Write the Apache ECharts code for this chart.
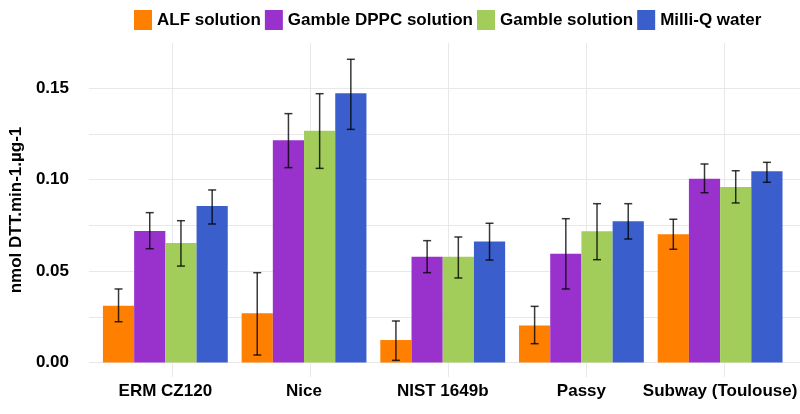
<!DOCTYPE html>
<html>
<head>
<meta charset="utf-8">
<script src="https://cdn.jsdelivr.net/npm/echarts@6/dist/echarts.min.js"></script>
<style>html,body{margin:0;padding:0;background:#fff}#c{width:800px;height:414px}</style>
</head>
<body>
<div id="c"></div>
<script>
const categories = ['ERM CZ120', 'Nice', 'NIST 1649b', 'Passy', 'Subway (Toulouse)'];
const seriesNames = ['ALF solution', 'Gamble DPPC solution', 'Gamble solution', 'Milli-Q water'];
const colors = ['#FF7F00', '#9932CC', '#A2CD5A', '#3A5FCD'];

const alfMean   = [0.0310, 0.0269, 0.0123, 0.0203, 0.0701];
const dppcMean  = [0.0719, 0.1214, 0.0578, 0.0595, 0.1004];
const gambMean  = [0.0653, 0.1267, 0.0578, 0.0717, 0.0959];
const mqMean    = [0.0855, 0.1471, 0.0662, 0.0772, 0.1045];

const alfLow  = [0.0223, 0.0041, 0.0012, 0.0103, 0.0619];
const alfHigh = [0.0402, 0.0491, 0.0227, 0.0307, 0.0783];
const dppcLow  = [0.0622, 0.1065, 0.0491, 0.0402, 0.0928];
const dppcHigh = [0.0819, 0.1360, 0.0666, 0.0786, 0.1085];
const gambLow  = [0.0527, 0.1061, 0.0462, 0.0562, 0.0872];
const gambHigh = [0.0775, 0.1469, 0.0686, 0.0868, 0.1048];
const mqLow  = [0.0757, 0.1274, 0.0560, 0.0675, 0.0985];
const mqHigh = [0.0943, 0.1657, 0.0761, 0.0868, 0.1094];

const yTicks = ['0.00', '0.05', '0.10', '0.15'];
const yMin = -0.0079, yMax = 0.1746;

const means = [alfMean, dppcMean, gambMean, mqMean];
const lows = [alfLow, dppcLow, gambLow, mqLow];
const highs = [alfHigh, dppcHigh, gambHigh, mqHigh];

const font = "'Liberation Sans', Arial, sans-serif";
const txt = { fontFamily: font, fontWeight: 'bold', fontSize: 17, color: '#000' };

const errData = [];
for (let s = 0; s < 4; s++) {
  for (let i = 0; i < categories.length; i++) {
    errData.push([i, lows[s][i], highs[s][i], s]);
  }
}

const chart = echarts.init(document.getElementById('c'), null, { renderer: 'canvas' });
const series = seriesNames.map((n, s) => ({
  name: n, type: 'bar', xAxisIndex: 1, yAxisIndex: 1,
  data: means[s], barGap: '0%', barCategoryGap: '10%',
  itemStyle: { color: colors[s] }, z: 2
}));
series.push({
  name: 'err', type: 'custom', xAxisIndex: 1, yAxisIndex: 1, z: 5,
  data: errData,
  renderItem: function (params, api) {
    const i = api.value(0), s = api.value(3);
    const lo = api.coord([i, api.value(1)]);
    const hi = api.coord([i, api.value(2)]);
    const band = api.size([1, 0])[0];
    const x = lo[0] + (s - 1.5) * band * 0.9 / 4;
    const cw = 4;
    const st = { stroke: 'rgba(0,0,0,0.78)', lineWidth: 1.5 };
    return { type: 'group', children: [
      { type: 'line', shape: { x1: x, y1: lo[1], x2: x, y2: hi[1] }, style: st },
      { type: 'line', shape: { x1: x - cw, y1: lo[1], x2: x + cw, y2: lo[1] }, style: st },
      { type: 'line', shape: { x1: x - cw, y1: hi[1], x2: x + cw, y2: hi[1] }, style: st }
    ]};
  }
});

chart.setOption({
  animation: false,
  legend: {
    data: seriesNames, left: 134, top: 10, padding: 0, itemWidth: 18, itemHeight: 20, itemGap: 4,
    icon: 'rect', textStyle: Object.assign({}, txt, { padding: [0, 0, 0, 0] })
  },
  grid: [
    { left: 82, right: 0, top: 43, bottom: 37 },
    { left: 96, right: 6.5, top: 43, bottom: 37 }
  ],
  xAxis: [
    { type: 'value', gridIndex: 0, min: -0.6, max: 4.547, minInterval: 1, maxInterval: 1,
      axisLine: { show: false }, axisTick: { show: false }, axisLabel: { show: false },
      splitLine: { show: true, showMinLine: false, showMaxLine: false, lineStyle: { color: '#e8e8e8', width: 1 } } },
    { type: 'category', gridIndex: 1, data: categories,
      axisLine: { show: false }, axisTick: { show: false }, splitLine: { show: false },
      axisLabel: Object.assign({}, txt, { margin: 6, interval: 0 }) }
  ],
  yAxis: [
    { type: 'value', gridIndex: 0, min: yMin, max: yMax, minInterval: 0.025, maxInterval: 0.025,
      name: 'nmol DTT.min-1.µg-1', nameLocation: 'middle', nameGap: 54, nameRotate: 90,
      nameTextStyle: Object.assign({}, txt),
      axisLine: { show: false }, axisTick: { show: false },
      axisLabel: Object.assign({}, txt, { margin: 20, showMinLabel: false, showMaxLabel: false,
        formatter: function (v) {
          const k = Math.round(v / 0.05);
          if (Math.abs(v - k * 0.05) < 1e-6 && k >= 0 && k < yTicks.length) return yTicks[k];
          return '';
        } }),
      splitLine: { show: true, showMinLine: false, showMaxLine: false, lineStyle: { color: '#e8e8e8', width: 1 } } },
    { type: 'value', gridIndex: 1, min: yMin, max: yMax,
      axisLine: { show: false }, axisTick: { show: false }, axisLabel: { show: false }, splitLine: { show: false } }
  ],
  series: series
});
</script>
</body>
</html>
